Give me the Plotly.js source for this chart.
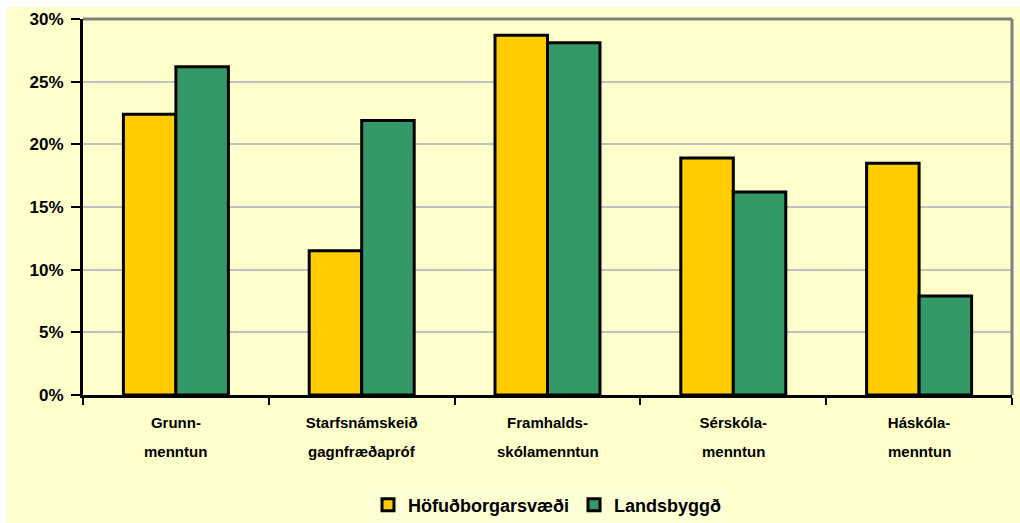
<!DOCTYPE html>
<html><head><meta charset="utf-8">
<script src="https://cdn.plot.ly/plotly-3.0.1.min.js"></script>
<style>html,body{margin:0;padding:0;background:#fff;}#chart{position:absolute;left:7px;top:7px;width:1013px;height:516px;}</style>
</head><body><div id="chart"></div><script>
const categories = ['Grunnmenntun','Starfsnámskeið gagnfræðapróf','Framhaldsskólamenntun','Sérskólamenntun','Háskólamenntun'];
const labelLine1 = ['Grunn-','Starfsnámskeið','Framhalds-','Sérskóla-','Háskóla-'];
const labelLine2 = ['menntun','gagnfræðapróf','skólamenntun','menntun','menntun'];
const seriesNames = ['Höfuðborgarsvæði','Landsbyggð'];
const hofudborgarsvaedi = [22.4, 11.5, 28.7, 18.9, 18.5];
const landsbyggd = [26.2, 21.9, 28.1, 16.2, 7.9];
const yTicks = [0, 5, 10, 15, 20, 25, 30];
const yTickText = ['0%', '5%', '10%', '15%', '20%', '25%', '30%'];

const FONT = 'Liberation Sans, Arial, sans-serif';
const BG = '#FFFFCC';
const labelFont = {family: FONT, size: 15, weight: 700, color: '#000'};

const traces = [
  {type: 'bar', name: seriesNames[0], x: categories, y: hofudborgarsvaedi,
   marker: {color: '#FFCC00', line: {color: '#000', width: 3}}},
  {type: 'bar', name: seriesNames[1], x: categories, y: landsbyggd,
   marker: {color: '#339966', line: {color: '#000', width: 3}}}
];

const layout = {
  width: 1013, height: 516,
  margin: {l: 76, r: 8, t: 12, b: 128, autoexpand: false},
  paper_bgcolor: BG, plot_bgcolor: BG,
  font: {family: FONT, color: '#000'},
  barmode: 'group', bargap: 0.435, bargroupgap: 0,
  showlegend: true,
  legend: {orientation: 'h', x: 0.5, xanchor: 'center', y: -0.293, yanchor: 'middle',
           font: {family: FONT, size: 18, weight: 700, color: '#000'},
           bgcolor: '#FFFFD4', itemwidth: 30},
  xaxis: {type: 'category', categoryorder: 'array', categoryarray: categories,
          range: [-0.5, 4.5], tickmode: 'array', tickvals: categories, ticktext: labelLine1,
          tickson: 'boundaries', ticks: 'outside', ticklen: 7, tickwidth: 2, tickcolor: '#000',
          showline: true, linecolor: '#000', linewidth: 3, showgrid: false, zeroline: false,
          ticklabelstandoff: 12, tickfont: labelFont, fixedrange: true},
  yaxis: {range: [0, 30], tickmode: 'array', tickvals: yTicks, ticktext: yTickText,
          ticks: 'outside', ticklen: 9, tickwidth: 2, tickcolor: '#000',
          showline: true, linecolor: '#000', linewidth: 3,
          showgrid: true, gridcolor: '#C0C0C0', gridwidth: 2, zeroline: false,
          ticklabelstandoff: 4,
          tickfont: {family: FONT, size: 17, weight: 700, color: '#000'}, fixedrange: true},
  annotations: categories.map((c, i) => ({
    xref: 'x', yref: 'paper', x: c, y: 0, yanchor: 'middle', xanchor: 'center', yshift: -56,
    text: labelLine2[i], showarrow: false, font: labelFont
  })),
  shapes: [
    {type: 'line', xref: 'paper', yref: 'paper', x0: 0, x1: 1, y0: 1, y1: 1, line: {color: '#808080', width: 3}},
    {type: 'line', xref: 'paper', yref: 'paper', x0: 1, x1: 1, y0: 0, y1: 1, line: {color: '#808080', width: 3}}
  ]
};

Plotly.newPlot('chart', traces, layout, {displayModeBar: false, staticPlot: true});
</script></body></html>
